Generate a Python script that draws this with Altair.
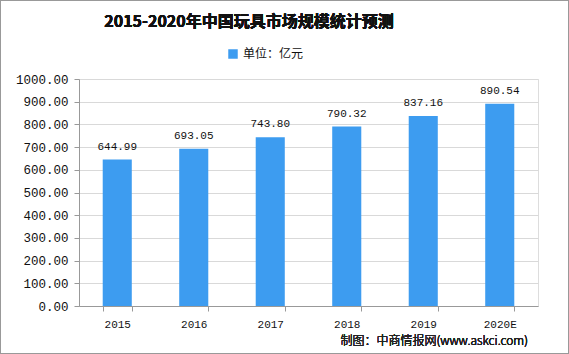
import altair as alt
import pandas as pd

years = ["2015", "2016", "2017", "2018", "2019", "2020E"]
values = [644.99, 693.05, 743.80, 790.32, 837.16, 890.54]
series_name = "单位：亿元"
title_text = "2015-2020年中国玩具市场规模统计预测"
source_text = "制图：中商情报网(www.askci.com)"

df = pd.DataFrame({"year": years, "value": values, "series": series_name})
df["label"] = df["value"].map(lambda v: f"{v:.2f}")

W, H = 459, 227
mono = "Liberation Mono"
cjk = "Noto Sans CJK SC"
blue = "#3d9cf0"

x_enc = alt.X("year:N", sort=years, title=None,
              scale=alt.Scale(paddingInner=0.62, paddingOuter=0.31),
              axis=alt.Axis(labelAngle=0, labelFont=mono, labelFontSize=11, labelColor="#111",
                            tickBand="extent", domainColor="#999", tickColor="#999",
                            tickSize=5, labelPadding=7))
y_enc = alt.Y("value:Q", title=None,
              scale=alt.Scale(domain=[0, 1000]),
              axis=alt.Axis(values=list(range(0, 1001, 100)), format=".2f", labelFont=mono,
                            labelFontSize=12.5, labelColor="#111", domainColor="#999",
                            tickColor="#999", tickSize=5, gridColor="#d9d9d9", labelPadding=6,
                            labelOverlap=False))

bars = alt.Chart(df).mark_bar(color=blue).encode(
    x=x_enc, y=y_enc,
    color=alt.Color("series:N", scale=alt.Scale(range=[blue]),
                    legend=alt.Legend(title=None, orient="none", legendX=148, legendY=-31,
                                      symbolType="square", symbolSize=90,
                                      labelFont=cjk, labelFontSize=12,
                                      labelColor="#111"))
)
labels = alt.Chart(df).mark_text(dy=-13, font=mono, fontSize=11, color="#111").encode(
    x=x_enc, y=y_enc, text="label:N")

title = alt.Chart(df).mark_text(font=cjk, fontSize=16, fontWeight="bold",
                                color="#111").encode(
    x=alt.value(170), y=alt.value(-57), text=alt.datum(title_text))
src = alt.Chart(df).mark_text(font=cjk, fontSize=12, fontWeight=300, color="#222",
                              align="right").encode(
    x=alt.value(449), y=alt.value(35 + H), text=alt.datum(source_text))
border = alt.Chart(df).mark_rect(fill=None, stroke="#999", strokeWidth=1).encode(
    x=alt.value(-78.5), x2=alt.value(W + 30.5), y=alt.value(-78.5), y2=alt.value(H + 47.5))

chart = alt.layer(bars, labels, title, src, border).properties(
    width=W, height=H, autosize=alt.AutoSizeParams(type="none"),
    padding={"left": 79, "top": 79, "right": 31, "bottom": 48}
).configure_view(stroke=None).configure(background="white")

chart.save("out.html", embed_options={"renderer": "svg", "actions": False})
